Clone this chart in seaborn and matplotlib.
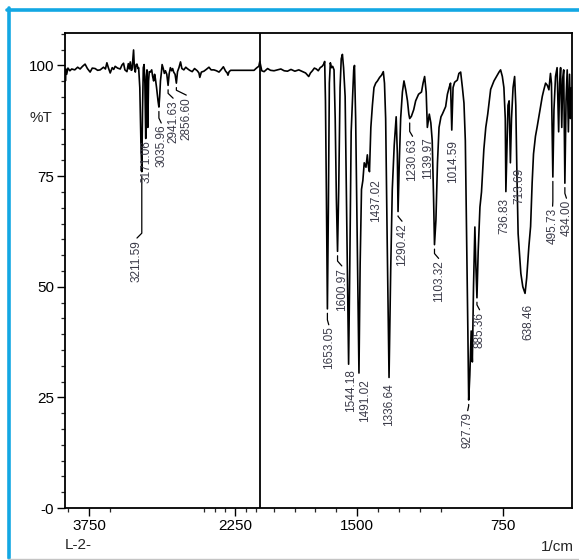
import matplotlib
matplotlib.use("Agg")
import matplotlib.pyplot as plt
import seaborn as sns
import numpy as np
from matplotlib.lines import Line2D
from matplotlib.ticker import FixedLocator

# IR spectrum: wavenumber (1/cm) and %T
spec_wn = [4000, 3996, 3990, 3983, 3970, 3950, 3931, 3900, 3870, 3845,
           3820, 3794, 3770, 3742, 3720, 3691, 3665, 3639, 3605, 3585,
           3570, 3555, 3536, 3515, 3500, 3485, 3460, 3433, 3415, 3399,
           3385, 3364, 3350, 3340, 3330, 3320, 3312, 3305, 3296, 3288,
           3278, 3270, 3261, 3250, 3244, 3232, 3220, 3211.59, 3204, 3196,
           3188, 3180, 3171.06, 3164, 3158, 3150, 3142, 3135, 3124, 3110,
           3100, 3090, 3080, 3072, 3060, 3045, 3035.96, 3028, 3020, 3010,
           3003, 2990, 2980, 2969, 2955, 2941.63, 2930, 2918, 2905, 2895,
           2884, 2870, 2856.60, 2845, 2830, 2814, 2800, 2780, 2760, 2745,
           2720, 2694, 2670, 2642, 2625, 2616, 2600, 2574, 2550, 2522,
           2500, 2471, 2445, 2419, 2395, 2374, 2351, 2335, 2327, 2315,
           2299, 2200, 2100, 2059, 2040, 2024, 2010, 2000,
           1990, 1978, 1960, 1945, 1927, 1910, 1892, 1875, 1858, 1840,
           1820, 1800, 1780, 1765, 1755, 1749, 1740, 1730, 1720, 1710,
           1700, 1690, 1680, 1672, 1667, 1663, 1658, 1653.05, 1648, 1643,
           1638, 1632, 1626, 1619, 1613, 1607, 1600.97, 1595, 1588, 1582,
           1576, 1570, 1562, 1556, 1550, 1544.18, 1538, 1531, 1525, 1518,
           1514, 1508, 1500, 1491.02, 1485, 1478, 1471, 1464, 1455, 1448,
           1442, 1437.02, 1430, 1422, 1414, 1405, 1396, 1385, 1375, 1366,
           1360, 1354, 1346, 1336.64, 1328, 1320, 1310, 1300, 1294, 1290.42,
           1284, 1277, 1268, 1260, 1251, 1242, 1235, 1230.63, 1222, 1210,
           1200, 1185, 1170, 1162, 1154, 1146, 1139.97, 1130, 1122, 1115,
           1108, 1103.32, 1096, 1088, 1080, 1070, 1063, 1046, 1037, 1028,
           1021, 1014.59, 1008, 1000, 986, 978, 969, 960, 952, 945,
           938, 932, 927.79, 922, 915, 909, 903, 896, 891, 885.36,
           879, 870, 862, 850, 840, 830, 815, 798, 785, 772,
           764, 755, 747, 740, 736.83, 731, 726, 720, 713.69, 708,
           700, 692, 686, 680, 674, 668, 660, 650, 638.46, 630,
           619, 610, 602, 595, 585, 576, 559, 550, 542, 533,
           524, 516, 508, 503, 499, 495.73, 490, 482, 474, 466,
           461, 456, 450, 445, 440, 434.00, 428, 422, 416, 410,
           405, 400]
spec_t = [99.0, 96.5, 99.2, 98.0, 99.4, 98.8, 99.2, 99.0, 99.6, 99.2,
          99.8, 100.3, 99.3, 98.5, 99.4, 99.3, 98.9, 99.0, 99.6, 99.2,
          100.6, 99.5, 98.3, 99.5, 99.1, 99.8, 99.4, 99.2, 100.1, 100.5,
          99.0, 98.6, 100.4, 99.2, 100.8, 98.9, 99.0, 101.0, 103.5, 99.5,
          98.5, 100.2, 100.3, 99.3, 99.5, 95.0, 82.0, 76.0, 90.0, 99.5,
          100.2, 96.0, 83.5, 97.5, 99.0, 86.0, 96.5, 98.6, 98.5, 99.0,
          97.5, 96.5, 98.0, 97.0, 95.0, 92.0, 90.6, 93.0, 96.5, 98.5,
          100.2, 99.2, 98.2, 98.8, 98.0, 95.5, 98.2, 99.5, 98.8, 99.3,
          98.5, 98.0, 96.0, 98.6, 99.5, 100.8, 99.3, 99.0, 99.6, 99.3,
          98.9, 98.6, 99.3, 98.8, 98.3, 97.3, 98.5, 98.7, 99.1, 99.6,
          99.0, 99.0, 98.8, 98.5, 99.1, 99.7, 98.7, 98.3, 97.8, 98.6,
          98.9, 98.9, 98.9, 98.9, 99.3, 99.6, 99.8, 100.9,
          98.8, 98.6, 99.3, 98.9, 98.8, 99.0, 99.2, 98.8, 98.7, 99.1,
          98.7, 99.0, 98.6, 98.3, 97.8, 97.5, 98.3, 98.8, 99.4, 99.2,
          98.8, 99.5, 99.8, 100.3, 100.9, 92.0, 70.0, 45.0, 68.0, 96.0,
          100.6, 99.5, 99.8, 99.0, 88.0, 70.0, 58.0, 72.0, 95.0, 101.5,
          102.5, 99.5, 93.0, 72.0, 52.0, 32.5, 55.0, 85.0, 91.5, 99.0,
          100.0, 88.0, 60.0, 30.5, 55.0, 72.0, 74.0, 78.0, 77.0, 79.8,
          77.0, 76.0, 86.0, 91.0, 95.0, 96.0, 96.5, 97.3, 97.8, 98.6,
          96.0, 88.0, 60.0, 29.5, 54.0, 72.0, 82.0, 88.4, 80.0, 67.0,
          78.0, 88.0, 94.0, 96.5, 94.5, 92.0, 89.0, 88.0, 88.5, 90.0,
          92.0, 93.5, 94.0, 96.0, 97.5, 94.0, 86.0, 89.0, 87.0, 83.0,
          70.0, 59.5, 65.0, 78.0, 86.0, 88.4, 89.0, 90.7, 93.5, 95.0,
          96.0, 85.4, 95.0, 96.2, 96.7, 98.2, 98.5, 95.0, 91.5, 83.0,
          60.0, 40.0, 24.4, 30.0, 40.0, 33.0, 50.0, 63.5, 55.0, 47.5,
          58.0, 68.0, 71.4, 81.0, 86.0, 89.0, 94.6, 96.5, 97.5, 98.5,
          99.0, 97.5, 95.0, 88.0, 71.5, 82.0, 91.0, 92.0, 78.0, 88.0,
          95.0, 97.5, 91.0, 75.0, 62.0, 58.0, 53.0, 50.0, 48.5, 52.0,
          59.0, 63.6, 73.5, 80.0, 84.0, 86.2, 90.7, 93.0, 94.5, 96.0,
          95.5, 94.5, 98.2, 96.0, 85.0, 74.8, 90.0, 97.5, 99.5, 85.0,
          96.0, 99.5, 86.0, 97.0, 99.0, 73.4, 92.0, 99.0, 85.0, 98.0,
          88.0, 95.0]

# peak labels
peak_wn = [3211.59, 3171.06, 3035.96, 2941.63, 2856.60,
           1653.05, 1600.97, 1544.18, 1491.02, 1437.02, 1336.64, 1290.42,
           1230.63, 1139.97, 1103.32, 1014.59, 927.79, 885.36,
           736.83, 713.69, 638.46, 495.73, 434.00]
peak_text = ["3211.59", "3171.06", "3035.96", "2941.63", "2856.60",
             "1653.05", "1600.97", "1544.18", "1491.02", "1437.02", "1336.64", "1290.42",
             "1230.63", "1139.97", "1103.32", "1014.59", "927.79", "885.36",
             "736.83", "713.69", "638.46", "495.73", "434.00"]
label_wn = [3261, 3160, 3012, 2890, 2755,
            1646, 1579, 1533, 1462, 1405, 1338, 1270,
            1216, 1138, 1082, 1010, 933, 872,
            744, 667, 621, 497, 426]
label_t = [60.6, 83.2, 86.6, 92.2, 92.9,
           41.0, 54.3, 31.3, 29.0, 74.2, 28.3, 64.4,
           83.6, 83.8, 56.0, 83.2, 21.6, 44.4,
           70.1, 76.9, 46.2, 67.8, 69.6]

x_ticks = [3750, 2250, 1500, 750]
y_ticks = [0, 25, 50, 75, 100]
y_ticklabels = ["-0", "25", "50", "75", "100"]


# two-part wavenumber axis: 4000-2000 is drawn at half the scale of 2000-400
def fwd(w):
    w = np.asarray(w, dtype=float)
    return np.where(w >= 2000, 2000 + (w - 2000) / 2.0, w)


def inv(p):
    p = np.asarray(p, dtype=float)
    return np.where(p >= 2000, 2000 + 2.0 * (p - 2000), p)


sns.set_style("ticks")
plt.rcParams["font.family"] = ["Liberation Sans", "DejaVu Sans"]

fig = plt.figure(figsize=(5.79, 5.60), dpi=100)
ax = fig.add_axes([65 / 579, 1 - 508 / 560, 506.5 / 579, 475.3 / 560])

ax.set_xscale("function", functions=(fwd, inv))
sns.lineplot(x=spec_wn, y=spec_t, sort=False, estimator=None,
             color="black", lw=1.2, ax=ax)
ax.axvline(2000, color="black", lw=1.3)

# leaders and peak labels
asc_wn = np.array(spec_wn[::-1])
asc_t = np.array(spec_t[::-1])
lab_color = "#3a3a48"
for pw, txt, lw_, lt in zip(peak_wn, peak_text, label_wn, label_t):
    pt = np.interp(pw, asc_wn, asc_t)
    if pt - 1.0 > lt + 1.5:
        ax.plot([pw, pw, lw_], [pt - 1.0, lt + 1.5, lt + 0.4],
                color="black", lw=0.9)
    ax.text(lw_, lt, txt, rotation=90, ha="center", va="top",
            fontsize=8.5, color=lab_color)

ax.set_xlim(4000, 400)
ax.set_ylim(0, 107.4)
ax.set_xticks(x_ticks)
ax.set_xticklabels([str(v) for v in x_ticks])
ax.set_yticks(y_ticks)
ax.set_yticklabels(y_ticklabels)

minor_x = [3750 + k * 1500 / 7 for k in range(-1, 9)] + \
          [1500 + k * 750 / 7 for k in range(-4, 11)]
minor_x = [v for v in minor_x if 400 < v < 4000 and v not in x_ticks]
ax.xaxis.set_minor_locator(FixedLocator(minor_x))
ax.yaxis.set_minor_locator(FixedLocator([k * 25 / 7 for k in range(1, 31)]))

ax.tick_params(which="major", length=6, width=1.0, direction="out",
               labelsize=11, pad=2, colors="black")
ax.tick_params(which="minor", length=3, width=0.9, direction="out")
for s in ax.spines.values():
    s.set_linewidth(1.3)
    s.set_color("black")
ax.set_xlabel("")
ax.set_ylabel("")

ax.annotate("%T", xy=(-0.024, 88.2), xycoords=("axes fraction", "data"),
            ha="right", va="center", fontsize=11)
fig.text(65 / 579, 1 - 545 / 560, "L-2-", ha="left", va="center", fontsize=11)
fig.text(574 / 579, 1 - 547 / 560, "1/cm", ha="right", va="center", fontsize=11)

# frame around the picture
cyan = "#13a7e3"
fig.add_artist(Line2D([8.7 / 579, 8.7 / 579], [0.003, 1 - 8 / 560],
                      transform=fig.transFigure, color=cyan, lw=2.6))
fig.add_artist(Line2D([7.5 / 579, 1.0], [1 - 9.5 / 560, 1 - 9.5 / 560],
                      transform=fig.transFigure, color=cyan, lw=2.6))
fig.add_artist(Line2D([8 / 579, 1.0], [1 - 558.5 / 560, 1 - 558.5 / 560],
                      transform=fig.transFigure, color="#c4c4c4", lw=1.0))

fig.savefig("out.png", dpi=100)
